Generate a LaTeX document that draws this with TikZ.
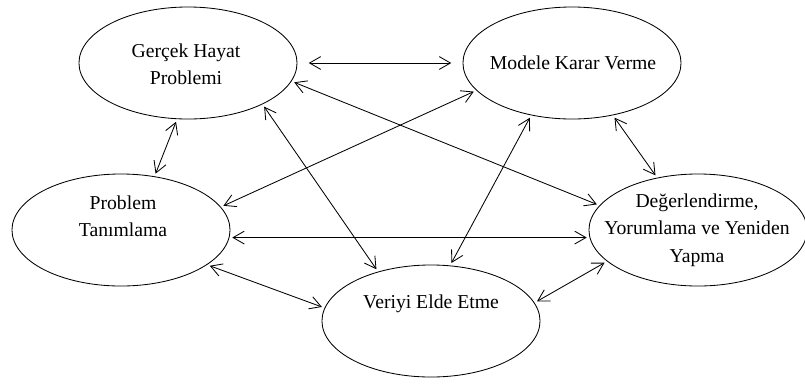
\documentclass[tikz,border=0pt]{standalone}
\usepackage{fontspec}
\setmainfont{Liberation Serif}
\usetikzlibrary{arrows.meta,shapes.geometric}
\tikzset{stage/.style={draw,ellipse,minimum width=5.45cm,minimum height=2.8cm,inner sep=0pt,line width=0.6pt},stage text/.style={align=center,font=\fontsize{14}{19.5}\selectfont},link/.style={{Straight Barb[length=2.8mm,width=3.2mm]}-{Straight Barb[length=2.8mm,width=3.2mm]},line width=0.6pt,shorten <=2pt,shorten >=2pt}}

\begin{document}
\begin{tikzpicture}[x=0.025cm,y=-0.025cm]
				\useasboundingbox (0,0) rectangle (805,383);
				% ellipses
				\node[stage] (e1) at (188,63) {};
				\node[stage] (e2) at (572,63) {};
				\node[stage] (e3) at (121,230) {};
				\node[stage] (e4) at (698,230) {};
				\node[stage] (e5) at (431,321) {};
				% texts
				\node[stage text] (t1) at (186,64) {Gerçek Hayat\\Problemi};
				\node[stage text] (t2) at (573,63) {Modele Karar Verme};
				\node[stage text] (t3) at (123,216) {Problem\\Tanımlama};
				\node[stage text] (t4) at (697,230) {Değerlendirme,\\Yorumlama ve Yeniden\\Yapma};
				\node[stage text] (t5) at (431,304) {Veriyi Elde Etme};
				% links
				\draw[link,shorten <=8pt,shorten >=8pt] (e1.0) -- (e2.180);
				\draw[link] (e1.-101) -- (e3.58);
				\draw[link] (e1.-10) -- (e4.166);
				\draw[link] (e1.-29) -- (e5.137);
				\draw[link] (e2.-164) -- (e3.13);
				\draw[link] (e2.-128) -- (e5.71);
				\draw[link] (e2.-52) -- (e4.128);
				\draw[link] (e3.-4) -- (e4.-176);
				\draw[link] (e3.-22) -- (e5.173);
				\draw[link] (e5.10) -- (e4.-161);
			\end{tikzpicture}
\end{document}
